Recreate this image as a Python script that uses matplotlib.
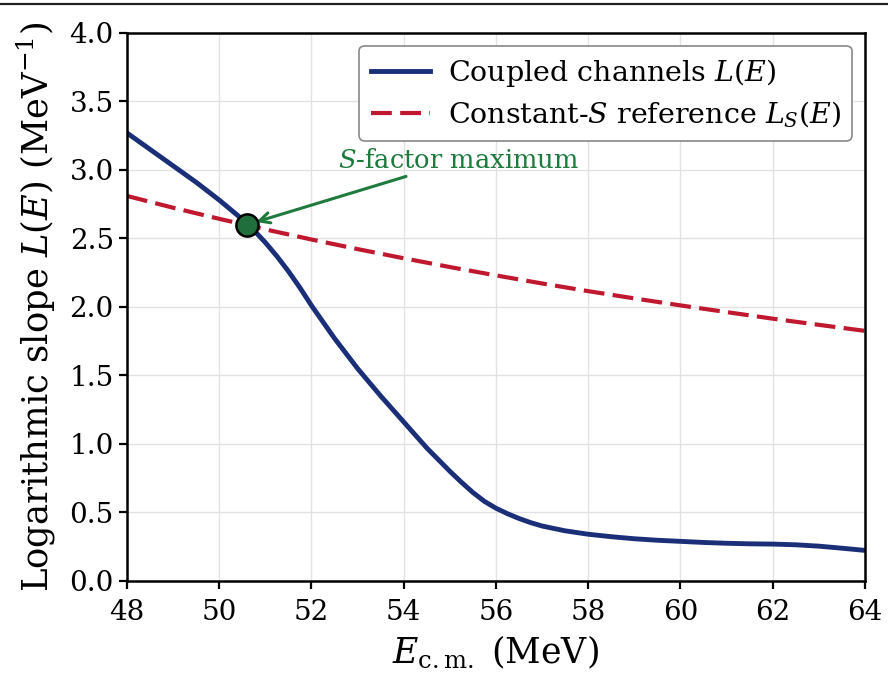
import numpy as np
import matplotlib.pyplot as plt
from matplotlib.lines import Line2D

plt.rcParams['font.family'] = 'DejaVu Serif'
plt.rcParams['mathtext.fontset'] = 'dejavuserif'

# DATA
E_cc = [48.0, 48.5, 49.0, 49.5, 50.0, 50.25, 50.5, 50.75, 51.0, 51.25, 51.5,
        51.75, 52.0, 52.25, 52.5, 52.75, 53.0, 53.5, 54.0, 54.5, 55.0, 55.25,
        55.5, 55.75, 56.0, 56.25, 56.5, 56.75, 57.0, 57.5, 58.0, 58.5, 59.0,
        59.5, 60.0, 60.5, 61.0, 61.5, 62.0, 62.5, 63.0, 63.5, 64.0]
L_cc = [3.27, 3.15, 3.03, 2.91, 2.78, 2.71, 2.64, 2.56, 2.47, 2.37, 2.26,
        2.14, 2.01, 1.89, 1.77, 1.66, 1.55, 1.35, 1.16, 0.97, 0.80, 0.72,
        0.645, 0.58, 0.53, 0.49, 0.455, 0.425, 0.40, 0.365, 0.34, 0.322, 0.307,
        0.296, 0.288, 0.280, 0.274, 0.270, 0.268, 0.263, 0.253, 0.238, 0.222]

E_ref = [48, 49, 50, 51, 52, 53, 54, 55, 56, 57, 58, 59, 60, 61, 62, 63, 64]
L_ref = [2.81, 2.724, 2.643, 2.566, 2.492, 2.422, 2.355, 2.291, 2.230, 2.171,
         2.115, 2.062, 2.011, 1.962, 1.914, 1.869, 1.825]

E_max = 50.6
L_max = 2.6

fig = plt.figure(figsize=(8.88, 6.73), dpi=100)
ax = fig.add_axes([0.143, 0.137, 0.831, 0.814])

ax.plot(E_cc, L_cc, color='#1b2f78', lw=3.5, label=r'Coupled channels $L(E)$')
ax.plot(E_ref, L_ref, color='#c0182f', lw=3.0, ls=(0, (5, 2)),
        label=r'Constant-$S$ reference $L_S(E)$')
ax.plot([E_max], [L_max], 'o', ms=16, color='#1f6e3b', mec='black', mew=1.8, zorder=5)

ax.annotate(r'$S$-factor maximum', xy=(E_max, L_max), xytext=(55.2, 3.07),
            ha='center', va='center', fontsize=18.5, color='#1f7a3e',
            arrowprops=dict(arrowstyle='->', color='#1f7a3e', lw=2.2,
                            shrinkB=7))

ax.set_xlim(48, 64)
ax.set_ylim(0, 4)
ax.set_xticks(np.arange(48, 65, 2))
ax.set_yticks(np.arange(0, 4.01, 0.5))
ax.grid(True, color='#e2e2e2', lw=1)
ax.set_axisbelow(True)

ax.tick_params(direction='out', length=6, width=1.6, labelsize=20)
ax.tick_params(axis='x', pad=7)
for s in ax.spines.values():
    s.set_linewidth(1.8)

ax.set_xlabel(r'$E_{\rm c.m.}$ (MeV)', fontsize=25, labelpad=6)
ax.set_ylabel(r'Logarithmic slope $L(E)$ (MeV$^{-1}$)', fontsize=25.5, labelpad=8)

leg = ax.legend(loc='upper right', fontsize=20.5, frameon=True, fancybox=True,
                edgecolor='#888888', framealpha=1, handlelength=2.1,
                borderpad=0.4, labelspacing=0.35, handletextpad=0.6,
                borderaxespad=0.45)
leg.get_frame().set_linewidth(1.2)

# rule along the top edge of the picture
fig.add_artist(Line2D([0, 1], [0.994, 0.994], transform=fig.transFigure,
                      color='#222222', lw=1.6))

fig.savefig('out.png', dpi=100)
